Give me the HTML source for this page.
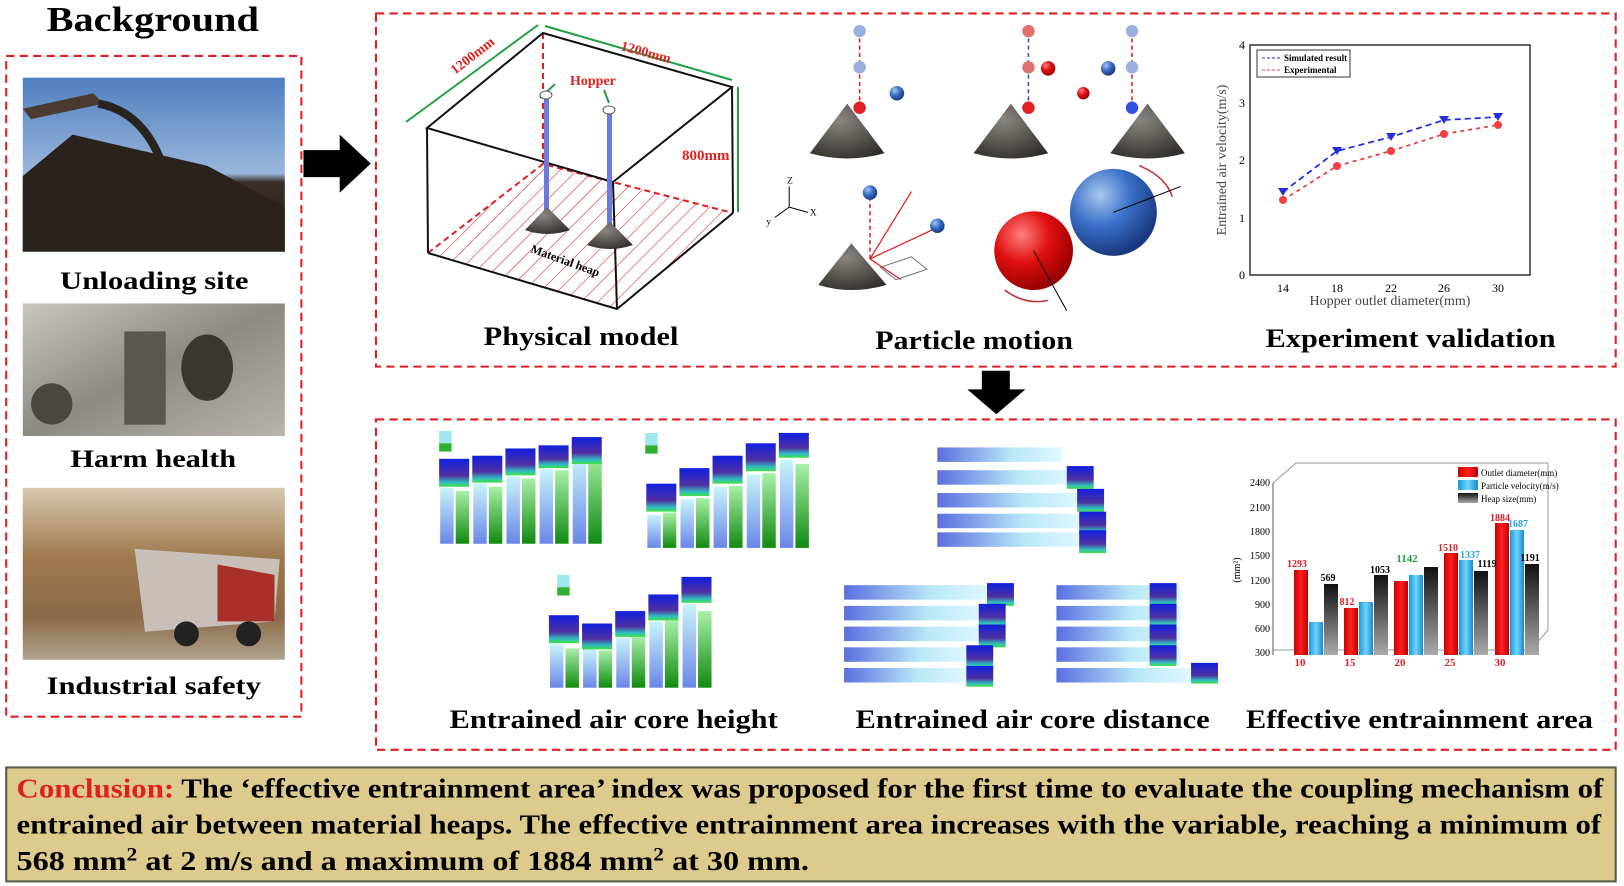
<!DOCTYPE html>
<html><head><meta charset="utf-8"><style>
html,body{margin:0;padding:0;background:#fff;}
svg{display:block;font-family:"Liberation Serif",serif;}
</style></head><body>
<svg width="1624" height="886" viewBox="0 0 1624 886" xmlns="http://www.w3.org/2000/svg">
<defs>
<linearGradient id="sky" x1="0" y1="0" x2="0" y2="1"><stop offset="0" stop-color="#4f7fbf"/><stop offset="0.55" stop-color="#9ab7dc"/><stop offset="0.6" stop-color="#3a2e28"/><stop offset="1" stop-color="#1e1814"/></linearGradient>
<linearGradient id="grey" x1="0" y1="0" x2="1" y2="1"><stop offset="0" stop-color="#c9c6c0"/><stop offset="0.5" stop-color="#8d8a84"/><stop offset="1" stop-color="#b8b4ad"/></linearGradient>
<linearGradient id="dust" x1="0" y1="0" x2="0" y2="1"><stop offset="0" stop-color="#d8c9b0"/><stop offset="0.4" stop-color="#a07a4e"/><stop offset="0.75" stop-color="#8a6a48"/><stop offset="1" stop-color="#b0a48e"/></linearGradient>
<radialGradient id="cone" cx="0.4" cy="0.3" r="0.8"><stop offset="0" stop-color="#8a8580"/><stop offset="1" stop-color="#2e2b28"/></radialGradient>
<radialGradient id="red" cx="0.35" cy="0.3" r="0.7"><stop offset="0" stop-color="#ff8080"/><stop offset="0.5" stop-color="#e01010"/><stop offset="1" stop-color="#900"/></radialGradient>
<radialGradient id="blue" cx="0.35" cy="0.3" r="0.7"><stop offset="0" stop-color="#a8c8f0"/><stop offset="0.5" stop-color="#3a70c8"/><stop offset="1" stop-color="#1a3a80"/></radialGradient>
<linearGradient id="barR" x1="0" x2="1"><stop offset="0" stop-color="#c00"/><stop offset="0.5" stop-color="#ff2020"/><stop offset="1" stop-color="#b00"/></linearGradient>
<linearGradient id="barC" x1="0" x2="1"><stop offset="0" stop-color="#1a9ad8"/><stop offset="0.5" stop-color="#6fd4ff"/><stop offset="1" stop-color="#1a8ac8"/></linearGradient>
<linearGradient id="barK" x1="0" x2="0" y1="0" y2="1"><stop offset="0" stop-color="#111"/><stop offset="1" stop-color="#aaa"/></linearGradient>
<linearGradient id="barG" x1="0" x2="0" y1="0" y2="1"><stop offset="0" stop-color="#a8f0a8"/><stop offset="1" stop-color="#108a10"/></linearGradient>
<linearGradient id="barB" x1="0" x2="0" y1="0" y2="1"><stop offset="0" stop-color="#c8f4fa"/><stop offset="1" stop-color="#6a86e8"/></linearGradient>
<linearGradient id="heat" x1="0" x2="0" y1="0" y2="1"><stop offset="0" stop-color="#1020e0"/><stop offset="0.6" stop-color="#5030a0"/><stop offset="0.85" stop-color="#30c0c0"/><stop offset="1" stop-color="#40e040"/></linearGradient>
<linearGradient id="hbar" x1="0" x2="1"><stop offset="0" stop-color="#5a6ee0"/><stop offset="0.6" stop-color="#b8e8f8"/><stop offset="1" stop-color="#e0f8ff"/></linearGradient>
<pattern id="hatch" width="12" height="12" patternUnits="userSpaceOnUse" patternTransform="rotate(45)"><line x1="0" y1="0" x2="0" y2="12" stroke="#e03030" stroke-width="1.2"/></pattern>
</defs>

<g transform="scale(1.0357)">
<text x="45" y="30" font-size="34" font-weight="bold" textLength="205" lengthAdjust="spacingAndGlyphs">Background</text>
<rect x="6" y="54" width="285" height="638" fill="none" stroke="#e02020" stroke-width="2" stroke-dasharray="8,5"/>
<rect x="22" y="75" width="253" height="168" fill="url(#sky)"/>
<path d="M22 170 L70 130 L200 160 L275 200 L275 243 L22 243Z" fill="#2a221c"/>
<path d="M22 105 L90 90 L100 100 L30 115Z" fill="#4a3a30"/>
<path d="M95 100 Q150 110 165 190" stroke="#2a2420" stroke-width="8" fill="none"/>
<text x="58" y="279" font-size="24" font-weight="bold" textLength="182" lengthAdjust="spacingAndGlyphs">Unloading site</text>
<rect x="22" y="293" width="253" height="128" fill="url(#grey)"/>
<rect x="120" y="320" width="40" height="90" fill="#5a5650"/><ellipse cx="200" cy="355" rx="25" ry="32" fill="#3a3632"/><ellipse cx="50" cy="390" rx="20" ry="20" fill="#4a4640"/>
<text x="68" y="451" font-size="24" font-weight="bold" textLength="160" lengthAdjust="spacingAndGlyphs">Harm health</text>
<rect x="22" y="471" width="253" height="166" fill="url(#dust)"/>
<path d="M130 530 L270 540 L265 600 L140 610Z" fill="#c8c0b8"/><path d="M210 545 L265 555 L265 600 L210 600Z" fill="#a83028"/>
<circle cx="180" cy="612" r="12" fill="#222"/><circle cx="240" cy="612" r="12" fill="#222"/>
<text x="45" y="670" font-size="24" font-weight="bold" textLength="207" lengthAdjust="spacingAndGlyphs">Industrial safety</text>

<path d="M293 145 L328 145 L328 130 L358 158 L328 186 L328 171 L293 171Z" fill="#000"/>
<rect x="363" y="13" width="1197" height="341" fill="none" stroke="#e02020" stroke-width="2" stroke-dasharray="8,5"/>
<text x="467" y="333" font-size="26" font-weight="bold" textLength="188" lengthAdjust="spacingAndGlyphs">Physical model</text>

<!-- particle motion -->
<g>
<path d="M782 148 L818 100 L854 148 Q818 158 782 148Z" fill="url(#cone)"/>
<line x1="830" y1="30" x2="830" y2="104" stroke="#e02020" stroke-width="1.5" stroke-dasharray="4,3"/>
<circle cx="830" cy="30" r="6" fill="#9ab0e0"/><circle cx="830" cy="65" r="6" fill="#9ab0e0"/><circle cx="830" cy="104" r="6" fill="#e02020"/>
<circle cx="866" cy="90" r="7" fill="url(#blue)"/>
<path d="M940 148 L976 100 L1012 148 Q976 158 940 148Z" fill="url(#cone)"/>
<path d="M1072 148 L1108 100 L1144 148 Q1108 158 1072 148Z" fill="url(#cone)"/>
<line x1="993" y1="30" x2="993" y2="104" stroke="#3050e0" stroke-width="1.5" stroke-dasharray="4,3"/>
<line x1="1093" y1="30" x2="1093" y2="104" stroke="#e02020" stroke-width="1.5" stroke-dasharray="4,3"/>
<circle cx="993" cy="30" r="6" fill="#e07070"/><circle cx="993" cy="65" r="6" fill="#e07070"/><circle cx="993" cy="104" r="6" fill="#e02020"/>
<circle cx="1093" cy="30" r="6" fill="#9ab0e0"/><circle cx="1093" cy="65" r="6" fill="#9ab0e0"/><circle cx="1093" cy="104" r="6" fill="#3050e0"/>
<circle cx="1012" cy="66" r="7" fill="url(#red)"/><circle cx="1046" cy="90" r="6" fill="url(#red)"/><circle cx="1070" cy="66" r="7" fill="url(#blue)"/>
<path d="M790 275 L822 235 L856 275 Q822 285 790 275Z" fill="url(#cone)"/>
<line x1="840" y1="190" x2="840" y2="250" stroke="#e02020" stroke-width="1.5" stroke-dasharray="4,3"/>
<circle cx="840" cy="186" r="7" fill="url(#blue)"/><circle cx="905" cy="218" r="7" fill="url(#blue)"/>
<g stroke="#e02020" stroke-width="1.2"><line x1="840" y1="250" x2="880" y2="185"/><line x1="840" y1="250" x2="900" y2="222"/><line x1="840" y1="250" x2="870" y2="270"/></g>
<polygon points="850,258 880,248 895,260 865,270" fill="none" stroke="#777"/>
<g stroke="#000" stroke-width="1"><line x1="762" y1="200" x2="762" y2="180"/><line x1="762" y1="200" x2="780" y2="205"/><line x1="762" y1="200" x2="748" y2="210"/></g>
<text x="760" y="177" font-size="9">Z</text><text x="782" y="208" font-size="9">X</text><text x="740" y="217" font-size="9">y</text>
<circle cx="998" cy="242" r="38" fill="url(#red)"/><circle cx="1075" cy="205" r="42" fill="url(#blue)"/>
<path d="M1100 160 Q1125 170 1132 190" stroke="#c03030" stroke-width="1.5" fill="none"/>
<path d="M970 280 Q990 295 1012 290" stroke="#c03030" stroke-width="1.5" fill="none"/>
<line x1="998" y1="242" x2="1030" y2="300" stroke="#000"/><line x1="1075" y1="205" x2="1140" y2="180" stroke="#000"/>
</g>
<text x="845" y="337" font-size="26" font-weight="bold" textLength="191" lengthAdjust="spacingAndGlyphs">Particle motion</text>
<text x="1222" y="335" font-size="26" font-weight="bold" textLength="280" lengthAdjust="spacingAndGlyphs">Experiment validation</text>

<path d="M948 358 L975 358 L975 376 L990 376 L962 400 L934 376 L948 376Z" fill="#000"/>
<rect x="363" y="405" width="1197" height="319" fill="none" stroke="#e02020" stroke-width="2" stroke-dasharray="8,5"/>

<!-- height charts -->
<g>
<g fill="url(#barB)"><rect x="425" y="471" width="13" height="54"/><rect x="457" y="467" width="13" height="58"/><rect x="489" y="460" width="13" height="65"/><rect x="521" y="453" width="13" height="72"/><rect x="553" y="439" width="13" height="86"/></g>
<g fill="url(#barG)"><rect x="440" y="474" width="13" height="51"/><rect x="472" y="470" width="13" height="55"/><rect x="504" y="462" width="13" height="63"/><rect x="536" y="454" width="13" height="71"/><rect x="568" y="437" width="13" height="88"/></g>
<g fill="url(#heat)"><rect x="424" y="443" width="29" height="27"/><rect x="456" y="440" width="29" height="26"/><rect x="488" y="433" width="29" height="26"/><rect x="520" y="430" width="29" height="22"/><rect x="552" y="422" width="29" height="26"/></g>
<rect x="424" y="416" width="12" height="12" fill="#9ee8f0"/><rect x="424" y="428" width="12" height="8" fill="#30b030"/>
<g fill="url(#barB)"><rect x="625" y="497" width="13" height="32"/><rect x="657" y="482" width="13" height="47"/><rect x="689" y="470" width="13" height="59"/><rect x="721" y="458" width="13" height="71"/><rect x="753" y="444" width="13" height="85"/></g>
<g fill="url(#barG)"><rect x="640" y="495" width="13" height="34"/><rect x="672" y="481" width="13" height="48"/><rect x="704" y="469" width="13" height="60"/><rect x="736" y="457" width="13" height="72"/><rect x="768" y="448" width="13" height="81"/></g>
<g fill="url(#heat)"><rect x="624" y="467" width="29" height="27"/><rect x="656" y="452" width="29" height="27"/><rect x="688" y="440" width="29" height="27"/><rect x="720" y="428" width="29" height="27"/><rect x="752" y="418" width="29" height="24"/></g>
<rect x="623" y="418" width="12" height="12" fill="#9ee8f0"/><rect x="623" y="430" width="12" height="8" fill="#30b030"/>
<g fill="url(#barB)"><rect x="531" y="622" width="13" height="42"/><rect x="563" y="627" width="13" height="37"/><rect x="595" y="616" width="13" height="48"/><rect x="627" y="600" width="13" height="64"/><rect x="659" y="583" width="13" height="81"/></g>
<g fill="url(#barG)"><rect x="546" y="626" width="13" height="38"/><rect x="578" y="628" width="13" height="36"/><rect x="610" y="614" width="13" height="50"/><rect x="642" y="599" width="13" height="65"/><rect x="674" y="590" width="13" height="74"/></g>
<g fill="url(#heat)"><rect x="530" y="594" width="29" height="27"/><rect x="562" y="602" width="29" height="25"/><rect x="594" y="590" width="29" height="25"/><rect x="626" y="574" width="29" height="25"/><rect x="658" y="557" width="29" height="25"/></g>
<rect x="538" y="555" width="12" height="12" fill="#9ee8f0"/><rect x="538" y="567" width="12" height="8" fill="#30b030"/>
</g>
<text x="434" y="703" font-size="26" font-weight="bold" textLength="317" lengthAdjust="spacingAndGlyphs">Entrained air core height</text>

<!-- distance charts -->
<g>
<g fill="url(#hbar)"><rect x="905" y="432" width="120" height="14"/><rect x="905" y="454" width="130" height="14"/><rect x="905" y="476" width="140" height="14"/><rect x="905" y="496" width="140" height="14"/><rect x="905" y="514" width="140" height="14"/></g>
<g fill="url(#heat)"><rect x="1030" y="450" width="26" height="22"/><rect x="1040" y="472" width="26" height="22"/><rect x="1042" y="494" width="26" height="22"/><rect x="1042" y="512" width="26" height="22"/></g>
<g fill="url(#hbar)"><rect x="815" y="565" width="140" height="14"/><rect x="815" y="585" width="135" height="14"/><rect x="815" y="605" width="135" height="14"/><rect x="815" y="625" width="120" height="14"/><rect x="815" y="645" width="118" height="14"/></g>
<g fill="url(#heat)"><rect x="953" y="563" width="26" height="22"/><rect x="945" y="583" width="26" height="22"/><rect x="945" y="603" width="26" height="22"/><rect x="933" y="623" width="26" height="22"/><rect x="933" y="643" width="26" height="20"/></g>
<g fill="url(#hbar)"><rect x="1020" y="565" width="120" height="14"/><rect x="1020" y="585" width="120" height="14"/><rect x="1020" y="605" width="120" height="14"/><rect x="1020" y="625" width="120" height="14"/><rect x="1020" y="645" width="130" height="14"/></g>
<g fill="url(#heat)"><rect x="1110" y="563" width="26" height="22"/><rect x="1110" y="583" width="26" height="22"/><rect x="1110" y="603" width="26" height="22"/><rect x="1110" y="623" width="26" height="20"/><rect x="1150" y="640" width="26" height="20"/></g>
</g>
<text x="826" y="703" font-size="26" font-weight="bold" textLength="342" lengthAdjust="spacingAndGlyphs">Entrained air core distance</text>
<text x="1203" y="703" font-size="26" font-weight="bold" textLength="335" lengthAdjust="spacingAndGlyphs">Effective entrainment area</text>

<rect x="6" y="741" width="1554" height="110" fill="#dccb8c" stroke="#5a5a4a" stroke-width="2"/>
<g font-size="27" font-weight="bold">
<text x="16" y="770" textLength="1532" lengthAdjust="spacingAndGlyphs"><tspan fill="#e02020">Conclusion:</tspan> The ‘effective entrainment area’ index was proposed for the first time to evaluate the coupling mechanism of</text>
<text x="16" y="805" textLength="1530" lengthAdjust="spacingAndGlyphs">entrained air between material heaps. The effective entrainment area increases with the variable, reaching a minimum of</text>
<text x="16" y="840" textLength="765" lengthAdjust="spacingAndGlyphs">568 mm<tspan dy="-9" font-size="18">2</tspan><tspan dy="9"> at 2 m/s and a maximum of 1884 mm</tspan><tspan dy="-9" font-size="18">2</tspan><tspan dy="9"> at 30 mm.</tspan></text>
</g>
</g>

<!-- physical model (real coords) -->
<polygon points="428,253 543,164 733,213 617,309" fill="url(#hatch)"/>
<polyline points="428,253 543,164 733,213" fill="none" stroke="#e02020" stroke-width="2" stroke-dasharray="6,4"/>
<line x1="543" y1="33" x2="543" y2="164" stroke="#e02020" stroke-width="2" stroke-dasharray="6,4"/>
<g fill="none" stroke="#111" stroke-width="2">
<polygon points="427,128 543,33 732,87 613,182"/>
<line x1="427" y1="128" x2="428" y2="253"/><line x1="613" y1="182" x2="617" y2="309"/><line x1="732" y1="87" x2="733" y2="213"/>
<polyline points="428,253 617,309 733,213"/>
</g>
<line x1="406" y1="122" x2="538" y2="25" stroke="#20a040" stroke-width="2"/>
<line x1="545" y1="26" x2="732" y2="80" stroke="#20a040" stroke-width="2"/>
<line x1="738" y1="87" x2="738" y2="212" stroke="#20a040" stroke-width="2"/>
<text x="455" y="75" font-size="14" font-weight="bold" fill="#e02020" transform="rotate(-38 455 75)">1200mm</text>
<text x="620" y="50" font-size="14" font-weight="bold" fill="#e02020" transform="rotate(15 620 50)">1200mm</text>
<text x="682" y="160" font-size="15" font-weight="bold" fill="#e02020">800mm</text>
<text x="570" y="85" font-size="14" font-weight="bold" fill="#e02020">Hopper</text>
<line x1="555" y1="84" x2="540" y2="98" stroke="#20a040" stroke-width="2"/><line x1="604" y1="90" x2="609" y2="103" stroke="#20a040" stroke-width="2"/>
<rect x="544" y="98" width="5" height="128" fill="#6a7ae0"/><rect x="607" y="112" width="5" height="128" fill="#6a7ae0"/>
<ellipse cx="546" cy="95" rx="6" ry="4" fill="#fff" stroke="#555"/><ellipse cx="609" cy="110" rx="6" ry="4" fill="#fff" stroke="#555"/>
<path d="M525 230 L547 207 L570 230 Q547 238 525 230Z" fill="url(#cone)"/>
<path d="M587 245 L610 222 L633 245 Q610 253 587 245Z" fill="url(#cone)"/>
<text x="530" y="252" font-size="12" font-weight="bold" transform="rotate(20 530 252)">Material heap</text>

<!-- experiment chart (real coords) -->
<g font-size="12">
<rect x="1250" y="45" width="280" height="230" fill="none" stroke="#333" stroke-width="1.5"/>
<g text-anchor="end"><text x="1245" y="49">4</text><text x="1245" y="107">3</text><text x="1245" y="164">2</text><text x="1245" y="222">1</text><text x="1245" y="279">0</text></g>
<g text-anchor="middle"><text x="1283" y="292">14</text><text x="1337" y="292">18</text><text x="1391" y="292">22</text><text x="1444" y="292">26</text><text x="1498" y="292">30</text></g>
<text x="1390" y="305" font-size="14" text-anchor="middle" fill="#444">Hopper outlet diameter(mm)</text>
<text x="1226" y="160" font-size="14" text-anchor="middle" fill="#444" transform="rotate(-90 1226 160)">Entrained air velocity(m/s)</text>
<polyline points="1283,192 1337,151 1391,137 1444,120 1498,117" fill="none" stroke="#2030e0" stroke-width="1.8" stroke-dasharray="6,4"/>
<polyline points="1283,200 1337,166 1391,151 1444,134 1498,125" fill="none" stroke="#f04040" stroke-width="1.8" stroke-dasharray="4,4"/>
<g fill="#2030e0"><path d="M1278 188 h10 l-5 8z"/><path d="M1332 147 h10 l-5 8z"/><path d="M1386 133 h10 l-5 8z"/><path d="M1439 116 h10 l-5 8z"/><path d="M1493 113 h10 l-5 8z"/></g>
<g fill="#f04040"><circle cx="1283" cy="200" r="4"/><circle cx="1337" cy="166" r="4"/><circle cx="1391" cy="151" r="4"/><circle cx="1444" cy="134" r="4"/><circle cx="1498" cy="125" r="4"/></g>
<rect x="1257" y="50" width="93" height="27" fill="#fff" stroke="#333"/>
<text x="1284" y="61" font-size="9" font-weight="bold">Simulated result</text><text x="1284" y="73" font-size="9" font-weight="bold">Experimental</text>
<line x1="1262" y1="58" x2="1282" y2="58" stroke="#2030e0" stroke-dasharray="3,2"/><line x1="1262" y1="70" x2="1282" y2="70" stroke="#f04040" stroke-dasharray="3,2"/>
</g>

<!-- 3D bar chart (real coords) -->
<g font-size="10">
<polyline points="1273,483 1296,463 1548,463 1548,630 1531,650 1273,650" fill="none" stroke="#999"/>
<line x1="1273" y1="483" x2="1273" y2="655" stroke="#555"/>
<g text-anchor="end"><text x="1270" y="486">2400</text><text x="1270" y="511">2100</text><text x="1270" y="535">1800</text><text x="1270" y="559">1500</text><text x="1270" y="584">1200</text><text x="1270" y="608">900</text><text x="1270" y="632">600</text><text x="1270" y="656">300</text></g>
<text x="1240" y="570" transform="rotate(-90 1240 570)" text-anchor="middle">(mm²)</text>
<rect x="1294" y="570" width="14" height="85" fill="url(#barR)"/>
<rect x="1309" y="622" width="14" height="33" fill="url(#barC)"/><rect x="1324" y="584" width="14" height="71" fill="url(#barK)"/>
<rect x="1344" y="608" width="14" height="47" fill="url(#barR)"/><rect x="1359" y="602" width="14" height="53" fill="url(#barC)"/><rect x="1374" y="575" width="14" height="80" fill="url(#barK)"/>
<rect x="1394" y="581" width="14" height="74" fill="url(#barR)"/><rect x="1409" y="575" width="14" height="80" fill="url(#barC)"/><rect x="1424" y="567" width="14" height="88" fill="url(#barK)"/>
<rect x="1444" y="553" width="14" height="102" fill="url(#barR)"/><rect x="1459" y="560" width="14" height="95" fill="url(#barC)"/><rect x="1474" y="571" width="14" height="84" fill="url(#barK)"/>
<rect x="1495" y="523" width="14" height="132" fill="url(#barR)"/><rect x="1510" y="530" width="14" height="125" fill="url(#barC)"/><rect x="1525" y="564" width="14" height="91" fill="url(#barK)"/>
<g text-anchor="middle" font-weight="bold"><text x="1297" y="567" fill="#e02020">1293</text><text x="1328" y="581">569</text><text x="1347" y="605" fill="#e02020">812</text><text x="1380" y="573">1053</text><text x="1407" y="562" fill="#20a040" font-size="11">1142</text><text x="1448" y="551" fill="#e02020">1510</text><text x="1470" y="558" fill="#29a0e0">1337</text><text x="1487" y="567">1119</text><text x="1500" y="521" fill="#e02020">1884</text><text x="1518" y="527" fill="#29a0e0">1687</text><text x="1530" y="561">1191</text></g>
<g text-anchor="middle" font-weight="bold" fill="#e02020" font-size="11"><text x="1300" y="666">10</text><text x="1350" y="666">15</text><text x="1400" y="666">20</text><text x="1450" y="666">25</text><text x="1500" y="666">30</text></g>
<rect x="1458" y="466" width="88" height="42" fill="#fff"/>
<rect x="1458" y="467" width="20" height="10" fill="url(#barR)"/><rect x="1458" y="480" width="20" height="10" fill="url(#barC)"/><rect x="1458" y="493" width="20" height="10" fill="url(#barK)"/>
<text x="1481" y="476" font-size="9">Outlet diameter(mm)</text><text x="1481" y="489" font-size="9">Particle velocity(m/s)</text><text x="1481" y="502" font-size="9">Heap size(mm)</text>
</g>
</svg>
</body></html>
